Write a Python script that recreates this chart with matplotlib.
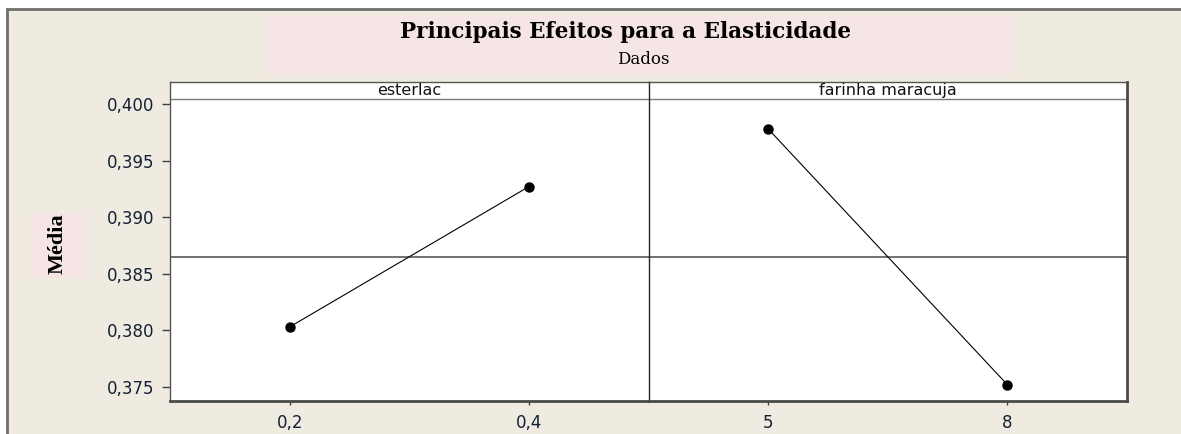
import matplotlib
matplotlib.use("Agg")
import matplotlib.pyplot as plt
import numpy as np
from matplotlib.patches import Rectangle
from matplotlib.ticker import FixedLocator, FuncFormatter

title = "Principais Efeitos para a Elasticidade"
subtitle = "Dados"
ylabel = "Média"
factors = ["esterlac", "farinha maracuja"]
esterlac_levels = ["0,2", "0,4"]
farinha_levels = ["5", "8"]
esterlac_means = [0.3803, 0.3927]
farinha_means = [0.3978, 0.3752]
yticks = [0.375, 0.380, 0.385, 0.390, 0.395, 0.400]

level_labels = [esterlac_levels, farinha_levels]
level_means = [esterlac_means, farinha_means]
grand_mean = np.mean(esterlac_means + farinha_means)

W, H = 1181, 434
fig = plt.figure(figsize=(W / 100, H / 100), dpi=100, facecolor="white")


def box(x0, y0, x1, y1):
    # pixel box measured from top-left -> figure fraction [l, b, w, h]
    return [x0 / W, 1 - y1 / H, (x1 - x0) / W, (y1 - y0) / H]


def add_rect(x0, y0, x1, y1, **kw):
    l, b, w, h = box(x0, y0, x1, y1)
    fig.add_artist(Rectangle((l, b), w, h, transform=fig.transFigure, zorder=-5, **kw))


# minitab style frame + pink title areas
add_rect(7, 9, W + 20, H + 20, facecolor="#efebe1", edgecolor="#6e6e6e", lw=2)
add_rect(264, 15, 1016, 74, facecolor="#f5e6e5", edgecolor="none")
add_rect(30, 212, 85, 278, facecolor="#f5e6e5", edgecolor="none")

fig.text(626 / W, 1 - 32 / H, title, ha="center", va="center",
         family="DejaVu Serif", weight="bold", fontsize=15.5)
fig.text(643 / W, 1 - 59 / H, subtitle, ha="center", va="center",
         family="DejaVu Serif", fontsize=12)
fig.text(58 / W, 1 - 244 / H, ylabel, ha="center", va="center", rotation=90,
         family="Liberation Serif", weight="bold", fontsize=16)

ax_left, ax_top, ax_right, ax_bottom = 170, 82, 1127, 401
panel_w = (ax_right - ax_left) / 2
strip_frac = (99 - ax_top) / (ax_bottom - ax_top)
ylim = (0.37376, 0.40194)

axes = []
for i in range(2):
    x0 = ax_left + i * panel_w
    ax = fig.add_axes(box(x0, ax_top, x0 + panel_w, ax_bottom), facecolor="white")
    axes.append(ax)
    xs = np.arange(len(level_means[i]))
    ax.plot(xs, level_means[i], color="black", lw=0.8, marker="o",
            markersize=6.5, markerfacecolor="black", markeredgecolor="black", zorder=3)
    ax.axhline(grand_mean, color="#4a4a4a", lw=1.1, zorder=2)
    ax.set_xlim(-0.5, 1.5)
    ax.set_ylim(*ylim)
    # strip separator
    ax.plot([0, 1], [1 - strip_frac, 1 - strip_frac], transform=ax.transAxes,
            color="#7a7a7a", lw=1)
    ax.text(0.5, 1 - strip_frac / 2, factors[i], transform=ax.transAxes,
            ha="center", va="center", fontsize=11.5, family="DejaVu Sans",
            color="#111111")
    ax.set_xticks(xs)
    ax.set_xticklabels(level_labels[i])
    ax.tick_params(axis="x", direction="out", length=3, width=1, color="#404040",
                   pad=6, labelsize=12, labelcolor="#142036")
    for side in ["top", "left", "right", "bottom"]:
        ax.spines[side].set_color("#555555")
        ax.spines[side].set_linewidth(1)
    ax.spines["bottom"].set_linewidth(2)
    ax.spines["bottom"].set_color("#4a4a4a")

    if i == 0:
        ax.yaxis.set_major_locator(FixedLocator(yticks))
        ax.yaxis.set_major_formatter(FuncFormatter(lambda v, p: f"{v:.3f}".replace(".", ",")))
        ax.tick_params(axis="y", direction="out", length=6, width=1, color="#404040",
                       pad=5, labelsize=12, labelcolor="#142036")
        ax.spines["right"].set_visible(False)
    else:
        ax.set_yticks([])
        ax.spines["left"].set_color("#222222")
        ax.spines["right"].set_linewidth(2)
        ax.spines["right"].set_color("#4a4a4a")

fig.savefig("out.png", dpi=100, facecolor=fig.get_facecolor())
